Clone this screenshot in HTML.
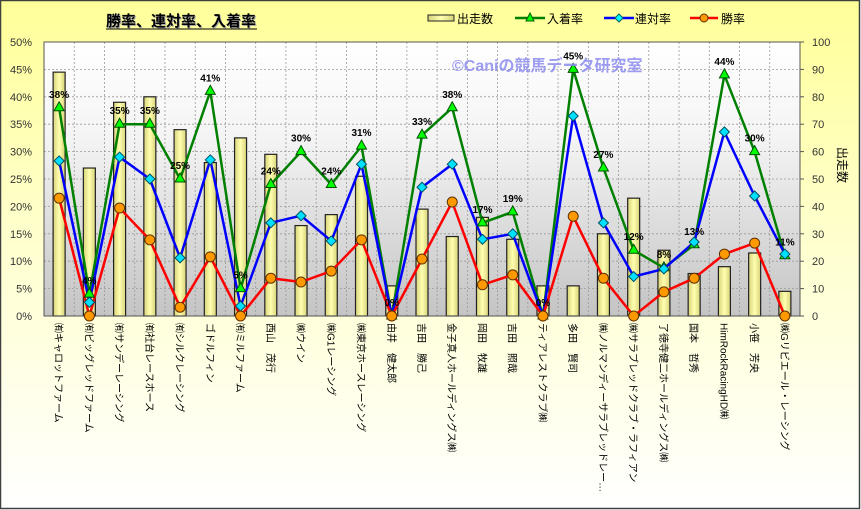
<!DOCTYPE html>
<html><head><meta charset="utf-8"><style>
html,body{margin:0;padding:0;width:861px;height:510px;overflow:hidden;background:#fff}
svg{display:block}
text{font-family:"Liberation Sans","Noto Sans CJK JP",sans-serif}
</style></head><body>
<svg id="s" width="861" height="510" xmlns="http://www.w3.org/2000/svg">
<defs>
<linearGradient id="bg" x1="0" y1="0" x2="0" y2="1"><stop offset="0" stop-color="#ffff99"/><stop offset="0.45" stop-color="#ffffcc"/><stop offset="1" stop-color="#ffffff"/></linearGradient>
<linearGradient id="pa" x1="0" y1="0" x2="0" y2="1"><stop offset="0" stop-color="#ffffff"/><stop offset="0.35" stop-color="#f4f4f4"/><stop offset="1" stop-color="#c4c4c4"/></linearGradient>
<linearGradient id="bar" x1="0" y1="0" x2="1" y2="0"><stop offset="0" stop-color="#d8d27a"/><stop offset="0.5" stop-color="#ffffb0"/><stop offset="1" stop-color="#d8d27a"/></linearGradient>
</defs>
<rect x="0.5" y="0.5" width="859" height="508" fill="url(#bg)" stroke="#404040" stroke-width="1.5"/>
<rect x="44" y="42" width="756" height="274" fill="url(#pa)"/>
<g id="grid"></g>
<g id="bars"></g>
<rect x="44" y="42" width="756" height="274" fill="none" stroke="#555" stroke-width="1"/>
<g id="lines"></g>
<text x="452" y="71" font-size="16" fill="#8c8cf0" font-weight="bold" opacity="0.85">©Caniの競馬データ研究室</text>
<text x="107" y="27" font-size="15" font-weight="bold" fill="#aaa" >勝率、連対率、入着率</text>
<text x="106" y="26" font-size="15" font-weight="bold" fill="#000">勝率、連対率、入着率</text>
<line x1="106" y1="29" x2="257" y2="29" stroke="#000" stroke-width="1"/>
<rect x="428" y="15" width="26" height="6" fill="url(#bar)" stroke="#222"/>
<text x="457" y="23" font-size="12">出走数</text>
<line x1="515" y1="18" x2="545" y2="18" stroke="#008000" stroke-width="2.5"/>
<polygon points="530,13 534,21 526,21" fill="#00ff00" stroke="#006000"/>
<text x="547" y="23" font-size="12">入着率</text>
<line x1="604" y1="18" x2="634" y2="18" stroke="#0000ff" stroke-width="2.5"/>
<polygon points="619,14 623,18 619,22 615,18" fill="#00ffff" stroke="#006060"/>
<text x="635" y="23" font-size="12">連対率</text>
<line x1="690" y1="18" x2="718" y2="18" stroke="#ff0000" stroke-width="2.5"/>
<circle cx="704" cy="18" r="4" fill="#ff9900" stroke="#603000"/>
<text x="721" y="23" font-size="12">勝率</text>
<text transform="translate(838,165) rotate(90)" font-size="12" text-anchor="middle">出走数</text>
<g id="ax"></g>
<g id="xl"></g>
</svg>
<script>
var NS="http://www.w3.org/2000/svg";
function el(p,t,a,txt){var e=document.createElementNS(NS,t);for(var k in a)e.setAttribute(k,a[k]);if(txt!=null)e.textContent=txt;document.getElementById(p).appendChild(e);return e;}
var L=44,T=42,B=316,W=756,n=25,cw=W/n;
function cx(i){return L+cw*(i+0.5);}
function yp(v){return B-v*5.48;}
function yb(v){return B-v*2.74;}
for(var k=1;k<10;k++){var y=B-k*27.4;el("grid","line",{x1:L,x2:L+W,y1:y,y2:y,stroke:"#999","stroke-dasharray":"2,2","stroke-width":0.8});}
for(var i=1;i<n;i++){var x=L+cw*i;el("grid","line",{x1:x,x2:x,y1:T,y2:B,stroke:"#999","stroke-dasharray":"2,2","stroke-width":0.8});}
for(var k=0;k<=10;k++){var y=B-k*27.4;
 el("ax","text",{x:32,y:y+4,"font-size":11,"text-anchor":"end",fill:"#333"},(k*5)+"%");
 el("ax","text",{x:812,y:y+4,"font-size":11,fill:"#333"},String(k*10));
 el("ax","line",{x1:800,x2:804,y1:y,y2:y,stroke:"#555"});}
var bars=[89,54,78,80,68,56,65,59,33,37,51,11,39,29,36,28,11,11,30,43,24,15.5,18,23,9];
var G=[38,4,35,35,25,41,5,24,30,24,31,0,33,38,17,19,0,45,27,12,8.8,13,44,30,11];
var Bl=[28.3,2.5,29,25,10.6,28.5,1.8,17,18.3,13.7,27.7,0,23.5,27.7,14,15,0,36.5,17,7.2,8.6,13.5,33.6,21.9,11.3];
var R=[21.5,0,19.7,13.9,1.6,10.8,0,6.9,6.2,8.2,13.9,0,10.4,20.8,5.7,7.5,0,18.2,6.9,0,4.4,6.9,11.3,13.3,0];
var GL=["38%","4%","35%","35%","25%","41%","5%","24%","30%","24%","31%","0%","33%","38%","17%","19%","0%","45%","27%","12%","8%","13%","44%","30%","11%"];
bars.forEach(function(v,i){el("bars","rect",{x:cx(i)-6,y:yb(v),width:12,height:B-yb(v),fill:"url(#bar)",stroke:"#222","stroke-width":1.2});});
function poly(d,c){var p=d.map(function(v,i){return cx(i).toFixed(1)+","+yp(v).toFixed(1)}).join(" ");el("lines","polyline",{points:p,fill:"none",stroke:c,"stroke-width":2.5,"stroke-linejoin":"round"});}
poly(G,"#008000");poly(Bl,"#0000ff");poly(R,"#ff0000");
G.forEach(function(v,i){var x=cx(i),y=yp(v);el("lines","polygon",{points:x+","+(y-6)+" "+(x+5)+","+(y+3)+" "+(x-5)+","+(y+3),fill:"#00ff00",stroke:"#005000"});
 el("lines","text",{x:x,y:y-10,"font-size":10,"font-weight":"bold","text-anchor":"middle"},GL[i]);});
Bl.forEach(function(v,i){var x=cx(i),y=yp(v);el("lines","polygon",{points:x+","+(y-5)+" "+(x+5)+","+y+" "+x+","+(y+5)+" "+(x-5)+","+y,fill:"#00e0ff",stroke:"#005060"});});
R.forEach(function(v,i){el("lines","circle",{cx:cx(i),cy:yp(v),r:5,fill:"#ff9900",stroke:"#603000"});});
var labs=["㈲キャロットファーム","㈲ビッグレッドファーム","㈲サンデーレーシング","㈲社台レースホース","㈲シルクレーシング","ゴドルフィン","㈲ミルファーム","西山　茂行","㈱ウイン","㈱G1レーシング","㈱東京ホースレーシング","由井　健太郎","吉田　勝己","金子真人ホールディングス㈱","岡田　牧雄","吉田　照哉","ティアレストクラブ㈱","多田　賢司","㈱ノルマンディーサラブレッドレー…","㈱サラブレッドクラブ・ラフィアン","了徳寺健二ホールディングス㈱","国本　哲秀","HimRockRacingHD㈱","小笹　芳央","㈱Gリビエール・レーシング"];
labs.forEach(function(s,i){var x=cx(i)-4;el("xl","text",{transform:"translate("+x.toFixed(1)+",323) rotate(90)","font-size":10},s);});
</script>
</body></html>
